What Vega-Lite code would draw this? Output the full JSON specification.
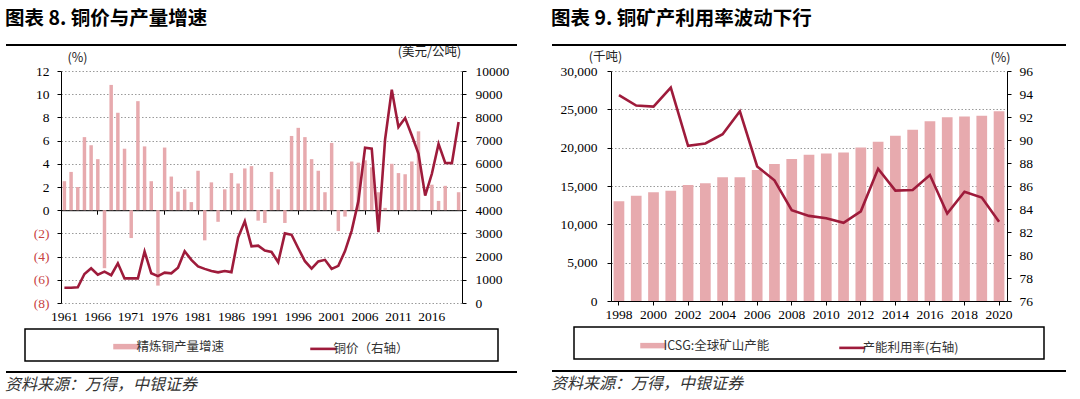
{
  "$schema": "https://vega.github.io/schema/vega-lite/v6.json",
  "padding": {"left": 5, "top": 8, "right": 5, "bottom": 2},
  "background": "white",
  "config": {
    "view": {"stroke": null},
    "font": "Noto Sans CJK SC",
    "axis": {
      "labelFont": "Liberation Sans Narrow",
      "labelFontSize": 13.5,
      "labelColor": "black",
      "domainColor": "black",
      "tickColor": "black",
      "titleFont": "Noto Sans CJK SC",
      "titleFontSize": 12.5,
      "titleFontWeight": "normal",
      "titleColor": "#222",
      "labelOverlap": false,
      "labelFlush": false
    }
  },
  "resolve": {"scale": {"color": "independent"}, "legend": {"color": "independent"}},
  "hconcat": [
    {
      "vconcat": [
        {
          "width": 511, "height": 26,
          "data": {"values": [{}]},
          "title": {"text": "图表 8. 铜价与产量增速", "anchor": "start", "font": "Noto Sans CJK SC", "fontSize": 19.5, "fontWeight": "bold", "color": "black", "offset": 15},
          "mark": {"type": "rule", "color": "black", "strokeWidth": 2},
          "encoding": {"y": {"datum": 1, "type": "quantitative", "scale": {"domain": [0, 1]}, "axis": null}}
        },
        {
          "width": 401, "height": 232,
          "data": {"values": [
            {"year": 1961, "growth": 2.5, "price": 660},
            {"year": 1962, "growth": 3.3, "price": 660},
            {"year": 1963, "growth": 2.0, "price": 680},
            {"year": 1964, "growth": 6.3, "price": 1250},
            {"year": 1965, "growth": 5.6, "price": 1500},
            {"year": 1966, "growth": 4.4, "price": 1220},
            {"year": 1967, "growth": -5.0, "price": 1350},
            {"year": 1968, "growth": 10.8, "price": 1200},
            {"year": 1969, "growth": 8.4, "price": 1710},
            {"year": 1970, "growth": 5.3, "price": 1060},
            {"year": 1971, "growth": -2.4, "price": 1060},
            {"year": 1972, "growth": 9.4, "price": 1060},
            {"year": 1973, "growth": 5.5, "price": 2220},
            {"year": 1974, "growth": 2.5, "price": 1280},
            {"year": 1975, "growth": -6.5, "price": 1160},
            {"year": 1976, "growth": 5.4, "price": 1310},
            {"year": 1977, "growth": 2.9, "price": 1280},
            {"year": 1978, "growth": 1.6, "price": 1520},
            {"year": 1979, "growth": 1.8, "price": 2230},
            {"year": 1980, "growth": 0.7, "price": 1860},
            {"year": 1981, "growth": 3.4, "price": 1580},
            {"year": 1982, "growth": -2.6, "price": 1470},
            {"year": 1983, "growth": 2.4, "price": 1380},
            {"year": 1984, "growth": -1.0, "price": 1320},
            {"year": 1985, "growth": 1.8, "price": 1380},
            {"year": 1986, "growth": 3.2, "price": 1330},
            {"year": 1987, "growth": 2.3, "price": 2820},
            {"year": 1988, "growth": 3.6, "price": 3520},
            {"year": 1989, "growth": 3.8, "price": 2440},
            {"year": 1990, "growth": -0.9, "price": 2470},
            {"year": 1991, "growth": -1.1, "price": 2260},
            {"year": 1992, "growth": 3.3, "price": 2200},
            {"year": 1993, "growth": 1.8, "price": 1760},
            {"year": 1994, "growth": -1.1, "price": 3000},
            {"year": 1995, "growth": 6.4, "price": 2940},
            {"year": 1996, "growth": 7.1, "price": 2360},
            {"year": 1997, "growth": 6.3, "price": 1800},
            {"year": 1998, "growth": 4.4, "price": 1480},
            {"year": 1999, "growth": 3.4, "price": 1790},
            {"year": 2000, "growth": 1.55, "price": 1860},
            {"year": 2001, "growth": 5.8, "price": 1470},
            {"year": 2002, "growth": -1.8, "price": 1600},
            {"year": 2003, "growth": -0.55, "price": 2240},
            {"year": 2004, "growth": 4.2, "price": 3120},
            {"year": 2005, "growth": 4.1, "price": 4390},
            {"year": 2006, "growth": 4.3, "price": 6690},
            {"year": 2007, "growth": 3.7, "price": 6650},
            {"year": 2008, "growth": 1.55, "price": 3050},
            {"year": 2009, "growth": 0.2, "price": 7050},
            {"year": 2010, "growth": 4.0, "price": 9190},
            {"year": 2011, "growth": 3.2, "price": 7580},
            {"year": 2012, "growth": 3.1, "price": 7970},
            {"year": 2013, "growth": 4.2, "price": 7220},
            {"year": 2014, "growth": 6.8, "price": 6430},
            {"year": 2015, "growth": null, "price": 4630},
            {"year": 2016, "growth": 2.2, "price": 5570},
            {"year": 2017, "growth": 0.8, "price": 6860},
            {"year": 2018, "growth": 2.1, "price": 6040},
            {"year": 2019, "growth": null, "price": 6030},
            {"year": 2020, "growth": 1.55, "price": 7800}
          ]},
          "layer": [
            {
              "mark": {"type": "bar"},
              "encoding": {
                "x": {"field": "year", "type": "ordinal",
                  "scale": {"paddingInner": 0.48, "paddingOuter": 0.25},
                  "axis": {"orient": "bottom", "title": null, "values": [1961, 1966, 1971, 1976, 1981, 1986, 1991, 1996, 2001, 2006, 2011, 2016], "labelAngle": 0, "ticks": false, "domain": false, "labelPadding": 6, "grid": false}},
                "y": {"field": "growth", "type": "quantitative",
                  "scale": {"domain": [-8, 12], "nice": false, "zero": true},
                  "axis": {"orient": "left", "values": [-8, -6, -4, -2, 0, 2, 4, 6, 8, 10, 12],
                    "labelExpr": "datum.value < 0 ? '(' + (-datum.value) + ')' : '' + datum.value",
                    "labelColor": {"condition": {"test": "datum.value < 0", "value": "#C8423F"}, "value": "black"},
                    "grid": true, "gridColor": "#9a9a9a", "gridDash": [1.5, 2], "gridWidth": 1,
                    "tickSize": 4, "labelPadding": 8,
                    "title": "(%)", "titleAngle": 0, "titleAlign": "center", "titleBaseline": "middle", "titleX": 16, "titleY": -14}},
                "color": {"datum": "精炼铜产量增速", "type": "nominal",
                  "scale": {"domain": ["精炼铜产量增速", "铜价（右轴）"], "range": ["#E7AAAE", "#9E1B3B"]},
                  "legend": {"orient": "none", "legendX": 114, "legendY": 295, "direction": "horizontal", "columns": 2, "columnPadding": 80,
                    "title": null, "padding": 0, "symbolType": "stroke", "symbolSize": 676, "labelFont": "Noto Sans CJK SC", "labelFontSize": 12.5, "labelColor": "#333", "labelOffset": 4,
                    "encode": {"symbols": {"update": {
                      "strokeWidth": {"signal": "datum.value == '精炼铜产量增速' ? 5.5 : 2.6"},
                      "stroke": {"signal": "datum.value == '精炼铜产量增速' ? '#E7AAAE' : '#9E1B3B'"},
                      "fill": {"value": "transparent"},
                      "opacity": {"value": 1}}}}}}
              }
            },
            {
              "mark": {"type": "line", "strokeWidth": 2.6},
              "encoding": {
                "x": {"field": "year", "type": "ordinal",
                  "axis": {"orient": "bottom", "offset": -92.8, "title": null, "labels": false, "values": [1966, 1971, 1976, 1981, 1986, 1991, 1996, 2001, 2006, 2011, 2016], "ticks": true, "tickSize": 4, "domain": true, "grid": false}},
                "y": {"field": "price", "type": "quantitative",
                  "scale": {"domain": [0, 10000], "nice": false},
                  "axis": {"orient": "right", "values": [0, 1000, 2000, 3000, 4000, 5000, 6000, 7000, 8000, 9000, 10000], "format": "d", "grid": false, "tickSize": 4, "labelPadding": 9,
                    "title": "(美元/公吨)", "titleAngle": 0, "titleAlign": "center", "titleBaseline": "middle", "titleX": -33, "titleY": -20}},
                "color": {"datum": "铜价（右轴）", "type": "nominal"}
              }
            }
          ],
          "resolve": {"scale": {"y": "independent"}, "axis": {"x": "independent"}}
        },
        {
          "width": 1, "height": 26,
          "data": {"values": []},
          "mark": "rule",
          "encoding": {}
        },
        {
          "width": 473, "height": 32,
          "view": {"stroke": "black", "strokeWidth": 1.5},
          "data": {"values": []},
          "mark": "rule",
          "encoding": {}
        },
        {
          "width": 511, "height": 11,
          "data": {"values": [{}]},
          "title": {"text": "资料来源：万得，中银证券", "orient": "bottom", "anchor": "start", "font": "Noto Sans CJK SC", "fontSize": 16, "fontStyle": "italic", "fontWeight": "normal", "color": "#333", "offset": 4},
          "mark": {"type": "rule", "color": "black", "strokeWidth": 2},
          "encoding": {"y": {"datum": 0, "type": "quantitative", "scale": {"domain": [0, 1]}, "axis": null}}
        }
      ],
      "spacing": 0,
      "bounds": "flush",
      "center": true
    },
    {
      "vconcat": [
        {
          "width": 514, "height": 26,
          "data": {"values": [{}]},
          "title": {"text": "图表 9. 铜矿产利用率波动下行", "anchor": "start", "font": "Noto Sans CJK SC", "fontSize": 19.5, "fontWeight": "bold", "color": "black", "offset": 15},
          "mark": {"type": "rule", "color": "black", "strokeWidth": 2},
          "encoding": {"y": {"datum": 1, "type": "quantitative", "scale": {"domain": [0, 1]}, "axis": null}}
        },
        {
          "width": 396, "height": 230,
          "data": {"values": [
            {"year": 1998, "capacity": 13000, "rate": 93.9},
            {"year": 1999, "capacity": 13740, "rate": 93.0},
            {"year": 2000, "capacity": 14180, "rate": 92.9},
            {"year": 2001, "capacity": 14390, "rate": 94.55},
            {"year": 2002, "capacity": 15130, "rate": 89.5},
            {"year": 2003, "capacity": 15350, "rate": 89.7},
            {"year": 2004, "capacity": 16130, "rate": 90.5},
            {"year": 2005, "capacity": 16130, "rate": 92.5},
            {"year": 2006, "capacity": 17080, "rate": 87.7},
            {"year": 2007, "capacity": 17860, "rate": 86.5},
            {"year": 2008, "capacity": 18510, "rate": 83.9},
            {"year": 2009, "capacity": 19080, "rate": 83.4},
            {"year": 2010, "capacity": 19250, "rate": 83.2},
            {"year": 2011, "capacity": 19380, "rate": 82.8},
            {"year": 2012, "capacity": 20030, "rate": 83.8},
            {"year": 2013, "capacity": 20770, "rate": 87.5},
            {"year": 2014, "capacity": 21550, "rate": 85.6},
            {"year": 2015, "capacity": 22330, "rate": 85.65},
            {"year": 2016, "capacity": 23450, "rate": 86.95},
            {"year": 2017, "capacity": 23970, "rate": 83.6},
            {"year": 2018, "capacity": 24060, "rate": 85.5},
            {"year": 2019, "capacity": 24150, "rate": 85.0},
            {"year": 2020, "capacity": 24750, "rate": 82.9}
          ]},
          "layer": [
            {
              "mark": {"type": "bar"},
              "encoding": {
                "x": {"field": "year", "type": "ordinal",
                  "scale": {"paddingInner": 0.38, "paddingOuter": 0.15},
                  "axis": {"orient": "bottom", "title": null, "values": [1998, 2000, 2002, 2004, 2006, 2008, 2010, 2012, 2014, 2016, 2018, 2020], "labelAngle": 0, "ticks": true, "tickSize": 4, "domain": true, "labelPadding": 2, "grid": false}},
                "y": {"field": "capacity", "type": "quantitative",
                  "scale": {"domain": [0, 30000], "nice": false},
                  "axis": {"orient": "left", "values": [0, 5000, 10000, 15000, 20000, 25000, 30000], "format": ",.0f",
                    "grid": true, "gridColor": "#9a9a9a", "gridDash": [1.5, 2], "gridWidth": 1,
                    "tickSize": 4, "labelPadding": 10,
                    "title": "(千吨)", "titleAngle": 0, "titleAlign": "center", "titleBaseline": "middle", "titleX": -6, "titleY": -15}},
                "color": {"datum": "ICSG:全球矿山产能", "type": "nominal",
                  "scale": {"domain": ["ICSG:全球矿山产能", "产能利用率(右轴)"], "range": ["#E7AAAE", "#9E1B3B"]},
                  "legend": {"orient": "none", "legendX": 95, "legendY": 294, "direction": "horizontal", "columns": 2, "columnPadding": 64,
                    "title": null, "padding": 0, "symbolType": "stroke", "symbolSize": 676, "labelFont": "Noto Sans CJK SC", "labelFontSize": 12.5, "labelColor": "#333", "labelOffset": 4,
                    "encode": {"symbols": {"update": {
                      "strokeWidth": {"signal": "datum.value == 'ICSG:全球矿山产能' ? 5.5 : 2.6"},
                      "stroke": {"signal": "datum.value == 'ICSG:全球矿山产能' ? '#E7AAAE' : '#9E1B3B'"},
                      "fill": {"value": "transparent"},
                      "opacity": {"value": 1}}}}}}
              }
            },
            {
              "mark": {"type": "line", "strokeWidth": 2.6},
              "encoding": {
                "x": {"field": "year", "type": "ordinal"},
                "y": {"field": "rate", "type": "quantitative",
                  "scale": {"domain": [76, 96], "nice": false, "zero": false},
                  "axis": {"orient": "right", "values": [76, 78, 80, 82, 84, 86, 88, 90, 92, 94, 96], "grid": false, "tickSize": 4, "labelPadding": 8,
                    "title": "(%)", "titleAngle": 0, "titleAlign": "center", "titleBaseline": "middle", "titleX": -7, "titleY": -14}},
                "color": {"datum": "产能利用率(右轴)", "type": "nominal"}
              }
            }
          ],
          "resolve": {"scale": {"y": "independent"}}
        },
        {
          "width": 1, "height": 26,
          "data": {"values": []},
          "mark": "rule",
          "encoding": {}
        },
        {
          "width": 470, "height": 32,
          "view": {"stroke": "black", "strokeWidth": 1.5},
          "data": {"values": []},
          "mark": "rule",
          "encoding": {}
        },
        {
          "width": 514, "height": 12,
          "data": {"values": [{}]},
          "title": {"text": "资料来源：万得，中银证券", "orient": "bottom", "anchor": "start", "font": "Noto Sans CJK SC", "fontSize": 16, "fontStyle": "italic", "fontWeight": "normal", "color": "#333", "offset": 4},
          "mark": {"type": "rule", "color": "black", "strokeWidth": 2},
          "encoding": {"y": {"datum": 0, "type": "quantitative", "scale": {"domain": [0, 1]}, "axis": null}}
        }
      ],
      "spacing": 0,
      "bounds": "flush",
      "center": true
    }
  ],
  "spacing": 33
}
